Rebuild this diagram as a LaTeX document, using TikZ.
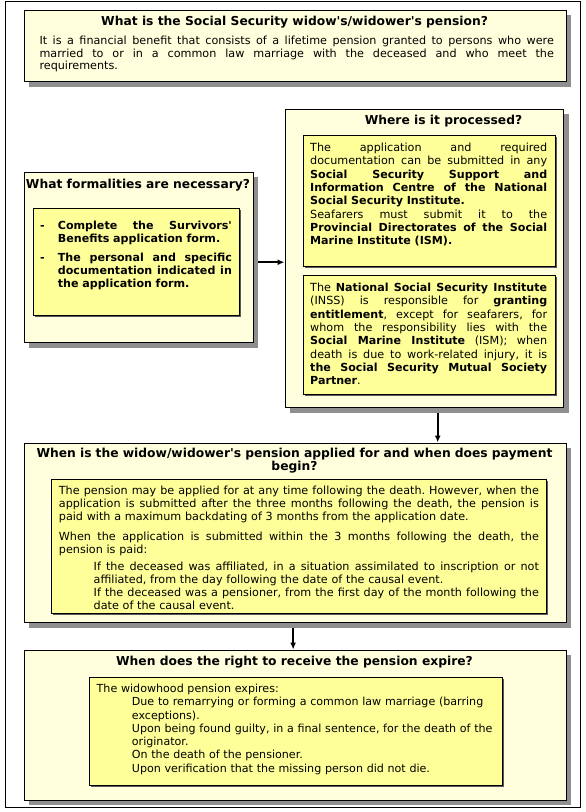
\documentclass[tikz,border=0pt]{standalone}
\usepackage{fontspec}
\setmainfont{DejaVu Sans}[Ligatures=TeXOff]
\usetikzlibrary{shadows,arrows.meta}
\definecolor{paleyel}{HTML}{FFFFDD}
\definecolor{yel}{HTML}{FFFF99}
\definecolor{shad}{HTML}{8F8F8F}
\definecolor{shaddark}{HTML}{5A5A5A}
\frenchspacing
\newcommand{\JL}[1]{\leavevmode\hbox to \hsize{\spaceskip=0pt\xspaceskip=0pt #1}}
\newcommand{\RB}[1]{{\fontsize{11.1}{13.3}\selectfont\bfseries #1}}
\tikzset{
 bigbox/.style={draw=black, line width=0.9pt, fill=paleyel, anchor=north west, inner sep=0pt,
   drop shadow={shadow xshift=5.5pt, shadow yshift=-5.5pt, opacity=1, fill=shad}},
 smallbox/.style={draw=black, line width=0.9pt, fill=yel, anchor=north west, inner sep=0pt,
   drop shadow={shadow xshift=2pt, shadow yshift=-2pt, opacity=1, fill=shaddark}},
 titletext/.style={font=\fontsize{12.3}{13.3}\selectfont\bfseries, anchor=base, inner sep=0pt, align=center},
 bodytext/.style={anchor=base west, inner sep=0pt, align=left},
 link/.style={line width=1.6pt, -{Latex[length=7pt,width=6pt]}},
}
\begin{document}
\begin{tikzpicture}[x=1pt,y=-1pt]
\useasboundingbox (0,0) rectangle (586,812);
\draw[line width=0.9pt] (5.5,1) rectangle (580.5,807.5);

% boxes
\node[bigbox, minimum width=542pt, minimum height=71.5pt] (top) at (23.5,9.5) {};
\node[bigbox, minimum width=229pt, minimum height=170.5pt] (left) at (23.5,171.5) {};
\node[smallbox, minimum width=206.5pt, minimum height=107.5pt] (leftin) at (32.5,207.5) {};
\node[bigbox, minimum width=278.5pt, minimum height=298.5pt] (right) at (284.5,108.5) {};
\node[smallbox, minimum width=252.5pt, minimum height=131pt] (rin1) at (302.5,135) {};
\node[smallbox, minimum width=252.5pt, minimum height=118.5pt] (rin2) at (302.5,275) {};
\node[bigbox, minimum width=542pt, minimum height=179.5pt] (box3) at (23.5,442.5) {};
\node[smallbox, minimum width=495.5pt, minimum height=134pt] (in3) at (50.5,479) {};
\node[bigbox, minimum width=542pt, minimum height=150pt] (box4) at (23.5,649.5) {};
\node[smallbox, minimum width=413pt, minimum height=108pt] (in4) at (88.5,676.5) {};

% top box
\node[titletext] (t1) at (294.6,25.5) {What is the Social Security widow's/widower's pension?};
\node[bodytext, text width=514.4pt, font=\fontsize{11.2}{12.8}\selectfont] (b1) at (39.3,44.3) {%
\JL{It is a financial benefit that consists of a lifetime pension granted to persons who were}\\
\JL{married to or in a common law marriage with the deceased and who meet the}\\
requirements.};

% left box
\node[titletext] (t2) at (138,188.5) {What formalities are necessary?};
\node[bodytext, text width=191.7pt, font=\fontsize{11.1}{13}\selectfont\bfseries] (b2) at (40,229.5) {%
\JL{\makebox[17.7pt][l]{-}Complete the Survivors'}\\
\hspace*{17.7pt}Benefits application form.\\[6pt]
\JL{\makebox[17.7pt][l]{-}The personal and specific}\\
\JL{\hspace*{17.7pt}documentation indicated in}\\
\hspace*{17.7pt}the application form.};

% right box
\node[titletext] (t3) at (443.5,124.5) {Where is it processed?};
\node[bodytext, text width=237pt, font=\fontsize{11.2}{13.35}\selectfont] (b3) at (310,151.5) {%
\JL{The application and required}\\
\JL{documentation can be submitted in any}\\
\JL{\RB{Social Security Support and}}\\
\JL{\RB{Information Centre of the National}}\\
\RB{Social Security Institute.}\\
\JL{Seafarers must submit it to the}\\
\JL{\RB{Provincial Directorates of the Social}}\\
\RB{Marine Institute (ISM).}};
\node[bodytext, text width=237pt, font=\fontsize{11.2}{13.3}\selectfont] (b4) at (310,291.5) {%
\JL{The \RB{National Social Security Institute}}\\
\JL{(INSS) is responsible for \RB{granting}}\\
\JL{\RB{entitlement}, except for seafarers, for}\\
\JL{whom the responsibility lies with the}\\
\JL{\RB{Social Marine Institute} (ISM); when}\\
\JL{death is due to work-related injury, it is}\\
\JL{\RB{the Social Security Mutual Society}}\\
\RB{Partner}.};

% box 3
\node[titletext, text width=530pt] (t4) at (294.5,457.5) {When is the widow/widower's pension applied for and when does payment\\begin?};
\node[bodytext, text width=480pt, font=\fontsize{11.2}{13.2}\selectfont] (b5) at (58.7,494) {%
\JL{The pension may be applied for at any time following the death. However, when the}\\
\JL{application is submitted after the three months following the death, the pension is}\\
paid with a maximum backdating of 3 months from the application date.\\[6.4pt]
\JL{When the application is submitted within the 3 months following the death, the}\\
pension is paid:};
\node[bodytext, text width=445.2pt, font=\fontsize{11.2}{13}\selectfont] (b6) at (93.5,570) {%
\JL{If the deceased was affiliated, in a situation assimilated to inscription or not}\\
affiliated, from the day following the date of the causal event.\\
\JL{If the deceased was a pensioner, from the first day of the month following the}\\
date of the causal event.};

% box 4
\node[titletext] (t5) at (294.5,665) {When does the right to receive the pension expire?};
\node[bodytext, text width=400pt, font=\fontsize{11.1}{13.25}\selectfont] (b7) at (96.5,692.5) {%
The widowhood pension expires:\\
\hspace*{35.2pt}Due to remarrying or forming a common law marriage (barring\\
\hspace*{35.2pt}exceptions).\\
\hspace*{35.2pt}Upon being found guilty, in a final sentence, for the death of the\\
\hspace*{35.2pt}originator.\\
\hspace*{35.2pt}On the death of the pensioner.\\
\hspace*{35.2pt}Upon verification that the missing person did not die.};

% connectors
\draw[link] ([xshift=5pt,yshift=-5pt]left.east) -- ([yshift=-4pt]right.west);
\draw[link] ([xshift=13.5pt,yshift=-5.5pt]right.south) -- ([xshift=13.5pt]right.south |- box3.north);
\draw[link] ([xshift=-1.8pt,yshift=-5.5pt]box3.south) -- ([xshift=-1.8pt]box4.north);
\end{tikzpicture}
\end{document}
